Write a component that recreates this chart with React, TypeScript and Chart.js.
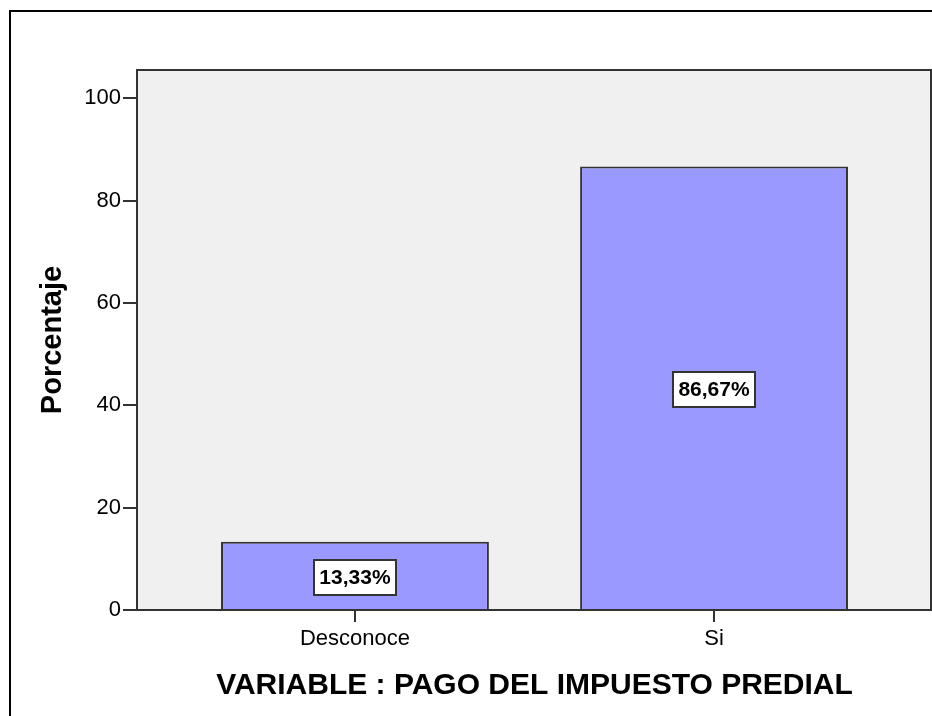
import React, { useEffect, useRef } from 'react';
import { Chart, registerables } from 'chart.js';
Chart.register(...registerables);

const categories = ['Desconoce', 'Si'];
const percentages = [13.33, 86.67];
const valueLabels = ['13,33%', '86,67%'];
const yTicks = [0, 20, 40, 60, 80, 100];
const xTitle = 'VARIABLE : PAGO DEL IMPUESTO PREDIAL';
const yTitle = 'Porcentaje';

const FONT = "'Liberation Sans', Arial, sans-serif";

export default function App() {
  const ref = useRef<HTMLCanvasElement>(null);
  useEffect(() => {
    const canvas = ref.current!;
    const framePlugin = {
      id: 'frame',
      beforeDraw(chart: any) {
        const { ctx, chartArea: a } = chart;
        ctx.save();
        ctx.fillStyle = '#ffffff';
        ctx.fillRect(0, 0, chart.width, chart.height);
        ctx.fillStyle = '#f0f0f0';
        ctx.fillRect(a.left, a.top, a.right - a.left, a.bottom - a.top);
        ctx.restore();
      },
      afterDatasetsDraw(chart: any) {
        const { ctx } = chart;
        const meta = chart.getDatasetMeta(0);
        ctx.save();
        meta.data.forEach((bar: any, i: number) => {
          const { x, y, base } = bar.getProps(['x', 'y', 'base'], true);
          const cy = (y + base) / 2 + 2;
          ctx.font = `bold 21px ${FONT}`;
          const tw = ctx.measureText(valueLabels[i]).width;
          const w = Math.round(tw + 11);
          const h = 35;
          const bx = Math.round(x - w / 2);
          const by = Math.round(cy - h / 2);
          ctx.fillStyle = '#ffffff';
          ctx.fillRect(bx, by, w, h);
          ctx.strokeStyle = '#333333';
          ctx.lineWidth = 2;
          ctx.strokeRect(bx, by, w, h);
          ctx.fillStyle = '#000000';
          ctx.textAlign = 'center';
          ctx.textBaseline = 'middle';
          ctx.fillText(valueLabels[i], x, cy + 1);
        });
        ctx.restore();
      },
      afterDraw(chart: any) {
        const { ctx, chartArea: a } = chart;
        ctx.save();
        ctx.strokeStyle = '#333333';
        ctx.lineWidth = 2;
        ctx.strokeRect(a.left, a.top, a.right - a.left - 1, a.bottom - a.top);
        ctx.strokeStyle = '#000000';
        ctx.strokeRect(10, 11, chart.width + 40, chart.height + 40);
        ctx.restore();
      },
    };

    const chart = new Chart(canvas, {
      type: 'bar',
      data: {
        datasets: [
          {
            data: percentages.map((v, i) => ({ x: i, y: v })),
            backgroundColor: '#9999ff',
            borderColor: '#333333',
            borderWidth: 2,
            barPercentage: 0.746,
            categoryPercentage: 1,
          },
        ],
      },
      options: {
        animation: false,
        responsive: false,
        devicePixelRatio: 1,
        layout: { padding: { top: 70, left: 0, right: 0, bottom: 0 } },
        plugins: { legend: { display: false }, tooltip: { enabled: false } },
        scales: {
          x: {
            type: 'linear',
            offset: false,
            min: -0.607,
            max: 1.607,
            afterBuildTicks: (s: any) => {
              s.ticks = categories.map((_, i) => ({ value: i }));
            },
            afterFit: (s: any) => {
              s.height = 106;
            },
            ticks: {
              callback: (v: any) => categories[v] ?? '',
              font: { family: FONT, size: 22 },
              color: '#000000',
              padding: 4,
              maxRotation: 0,
              autoSkip: false,
            },
            grid: {
              display: true,
              offset: false,
              drawOnChartArea: false,
              drawTicks: true,
              tickLength: 12,
              color: '#333333',
              lineWidth: 2,
            },
            border: { display: true, color: '#333333', width: 2 },
            title: {
              display: true,
              text: xTitle,
              font: { family: FONT, size: 30, weight: 'bold' },
              color: '#000000',
              padding: { top: 0, bottom: 12 },
            },
          },
          y: {
            min: 0,
            max: 105.5,
            afterBuildTicks: (s: any) => {
              s.ticks = yTicks.map((v) => ({ value: v }));
            },
            afterFit: (s: any) => {
              s.width = 137;
            },
            ticks: {
              font: { family: FONT, size: 22 },
              color: '#000000',
              padding: 2,
            },
            grid: {
              display: true,
              drawOnChartArea: false,
              drawTicks: true,
              tickLength: 14,
              color: '#333333',
              lineWidth: 2,
            },
            border: { display: true, color: '#333333', width: 2 },
            title: {
              display: true,
              text: yTitle,
              font: { family: FONT, size: 29, weight: 'bold' },
              color: '#000000',
              padding: { top: 36, bottom: 0 },
            },
          },
        },
      },
      plugins: [framePlugin],
    } as any);
    return () => chart.destroy();
  }, []);

  return (
    <div style={{ position: 'absolute', left: 0, top: 0, width: 932, height: 716 }}>
      <canvas ref={ref} width={932} height={716} />
    </div>
  );
}
